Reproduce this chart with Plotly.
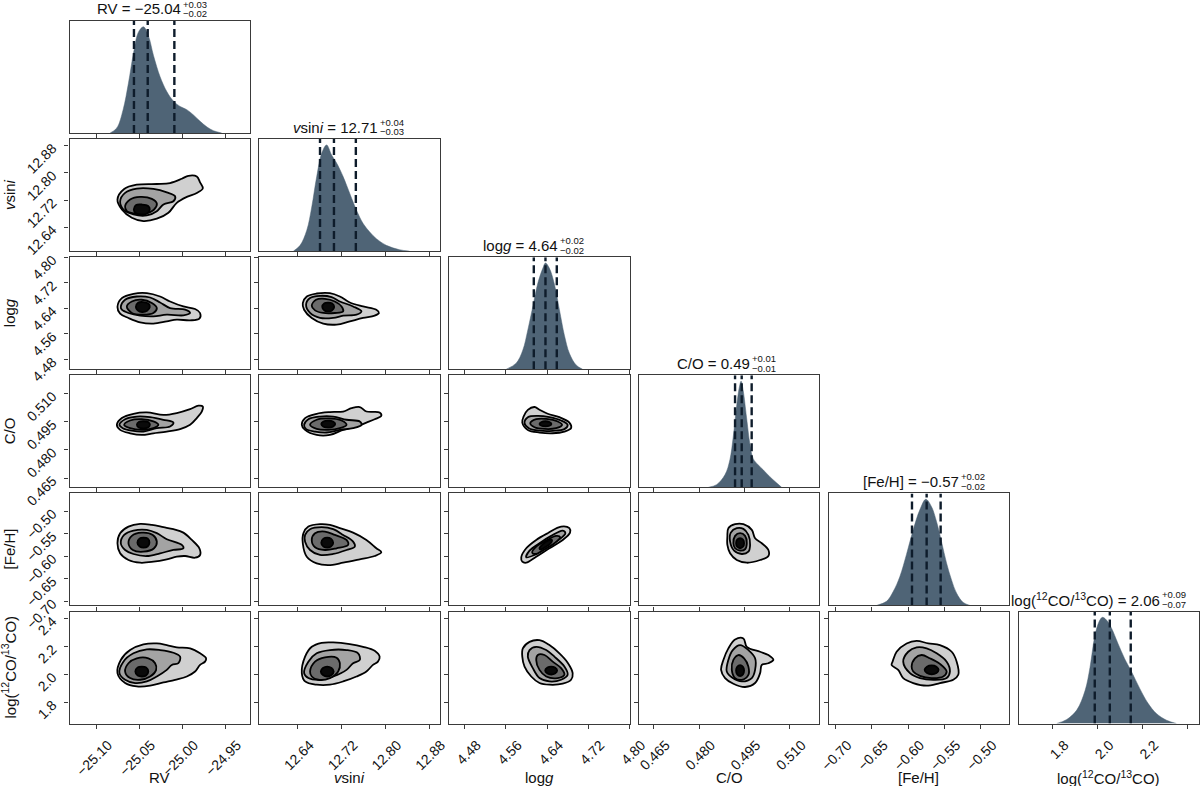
import plotly.graph_objects as go

# ---------------- parameters / axes ----------------
param_keys = ["rv", "vsini", "logg", "co", "feh", "logco"]
axis_labels = ["RV", "<i>v</i>sin<i>i</i>", "log<i>g</i>", "C/O", "[Fe/H]",
               "log(<sup>12</sup>CO/<sup>13</sup>CO)"]
axis_ranges = [[-25.131, -24.921], [12.5696, 12.8996], [4.4495, 4.8005],
               [0.4601, 0.5198], [-0.7095, -0.4607], [1.649, 2.4515]]
tick_vals = [[-25.10, -25.05, -25.00, -24.95],
             [12.64, 12.72, 12.80, 12.88],
             [4.48, 4.56, 4.64, 4.72, 4.80],
             [0.465, 0.480, 0.495, 0.510],
             [-0.70, -0.65, -0.60, -0.55, -0.50],
             [1.8, 2.0, 2.2, 2.4]]
tick_text = [["−25.10", "−25.05", "−25.00", "−24.95"],
             ["12.64", "12.72", "12.80", "12.88"],
             ["4.48", "4.56", "4.64", "4.72", "4.80"],
             ["0.465", "0.480", "0.495", "0.510"],
             ["−0.70", "−0.65", "−0.60", "−0.55", "−0.50"],
             ["1.8", "2.0", "2.2", "2.4"]]

title_main = ["RV = −25.04", "<i>v</i>sin<i>i</i> = 12.71", "log<i>g</i> = 4.64",
              "C/O = 0.49", "[Fe/H] = −0.57", "log(<sup>12</sup>CO/<sup>13</sup>CO) = 2.06"]
title_plus = ["+0.03", "+0.04", "+0.02", "+0.01", "+0.02", "+0.09"]
title_minus = ["−0.02", "−0.03", "−0.02", "−0.01", "−0.02", "−0.07"]

# ---------------- 1-D marginals (relative density) ----------------
rv_grid = [-25.0837, -25.076, -25.0686, -25.0624, -25.0566, -25.0508, -25.045, -25.039,
           -25.0333, -25.0256, -25.0178, -25.010, -25.0023, -24.9946, -24.9868, -24.979,
           -24.971, -24.9636, -24.954]
rv_dens = [0, 0.047, 0.22, 0.47, 0.75, 0.95, 1.0, 0.91, 0.73, 0.53, 0.39, 0.30, 0.25,
           0.22, 0.17, 0.11, 0.056, 0.022, 0]
rv_q = [-25.056, -25.040, -25.009]

vsini_grid = [12.632, 12.6442, 12.6564, 12.6655, 12.6745, 12.6836, 12.6927, 12.7018,
              12.7109, 12.7230, 12.7352, 12.7473, 12.7594, 12.7715, 12.7836, 12.8018,
              12.826, 12.844]
vsini_dens = [0, 0.054, 0.196, 0.416, 0.70, 0.92, 1.0, 0.905, 0.83, 0.70, 0.54, 0.385,
              0.26, 0.18, 0.117, 0.054, 0.013, 0]
vsini_q = [12.6806, 12.7061, 12.7461]

logg_grid = [4.5606, 4.580, 4.5929, 4.6026, 4.6123, 4.622, 4.6317, 4.6369, 4.6446,
             4.6543, 4.664, 4.6737, 4.6834, 4.6964, 4.709]
logg_dens = [0, 0.057, 0.18, 0.37, 0.59, 0.81, 0.95, 1.0, 0.95, 0.80, 0.56, 0.32, 0.15,
             0.04, 0]
logg_q = [4.6142, 4.6369, 4.6589]

co_grid = [0.4831, 0.4858, 0.4886, 0.4902, 0.4913, 0.4924, 0.4933, 0.4939, 0.4946,
           0.4957, 0.4968, 0.4979, 0.4996, 0.5012, 0.5034, 0.5057, 0.5073]
co_dens = [0, 0.025, 0.12, 0.26, 0.475, 0.76, 0.94, 1.0, 0.91, 0.66, 0.41, 0.27, 0.21,
           0.165, 0.10, 0.04, 0]
co_q = [0.4919, 0.4941, 0.4974]

feh_grid = [-0.6436, -0.6298, -0.6206, -0.6115, -0.6023, -0.5931, -0.5839, -0.5756,
            -0.5678, -0.5609, -0.5540, -0.5471, -0.5402, -0.5333, -0.5241, -0.5149]
feh_dens = [0, 0.038, 0.13, 0.27, 0.48, 0.71, 0.90, 1.0, 0.93, 0.79, 0.60, 0.40, 0.24,
            0.116, 0.028, 0]
feh_q = [-0.5947, -0.5745, -0.5552]

logco_grid = [1.819, 1.8637, 1.908, 1.945, 1.967, 1.988, 2.0074, 2.022, 2.040, 2.062,
              2.092, 2.121, 2.151, 2.188, 2.225, 2.262, 2.307, 2.351]
logco_dens = [0, 0.038, 0.126, 0.31, 0.53, 0.82, 0.96, 1.0, 0.975, 0.90, 0.75, 0.61,
              0.49, 0.33, 0.19, 0.094, 0.031, 0]
logco_q = [1.988, 2.055, 2.148]

marg_grid = [rv_grid, vsini_grid, logg_grid, co_grid, feh_grid, logco_grid]
marg_dens = [rv_dens, vsini_dens, logg_dens, co_dens, feh_dens, logco_dens]
marg_q = [rv_q, vsini_q, logg_q, co_q, feh_q, logco_q]

# ---------------- 2-D contour outlines (outer -> core) ----------------
# row vsini / col RV
vsini_rv_x = [
    [-25.0752, -25.0674, -25.0527, -25.0294, -25.0140, -25.0003, -24.9927, -24.9829, -24.9791,
     -24.9759, -24.9829, -24.9945, -25.0062, -25.0159, -25.0294, -25.0450, -25.0585, -25.0701],
    [-25.0721, -25.0663, -25.0527, -25.0334, -25.0178, -25.0081, -25.0101, -25.0217, -25.0294,
     -25.0410, -25.0566, -25.0683],
    [-25.0663, -25.0605, -25.0488, -25.0352, -25.0294, -25.0326, -25.0430, -25.0566, -25.0643],
    [-25.0562, -25.0535, -25.0465, -25.0395, -25.0376, -25.0407, -25.0477, -25.0541]]
vsini_rv_y = [
    [12.7214, 12.7527, 12.7652, 12.7673, 12.7702, 12.7828, 12.7915, 12.7895, 12.7720,
     12.7544, 12.7410, 12.7293, 12.7118, 12.6826, 12.6651, 12.6581, 12.6680, 12.6922],
    [12.7165, 12.7410, 12.7536, 12.7527, 12.7428, 12.7311, 12.7165, 12.7068, 12.6873,
     12.6747, 12.6776, 12.6922],
    [12.7019, 12.7214, 12.7293, 12.7235, 12.7098, 12.6922, 12.6806, 12.6806, 12.6873],
    [12.6922, 12.7054, 12.7068, 12.7025, 12.6922, 12.6806, 12.6776, 12.6820]]

# row logg / col RV
logg_rv_x = [
    [-25.0752, -25.0701, -25.0566, -25.0410, -25.0256, -25.0140, -24.9985, -24.9849, -24.9791,
     -24.9799, -24.9907, -25.0062, -25.0178, -25.0334, -25.0488, -25.0624, -25.0721],
    [-25.0713, -25.0663, -25.0527, -25.0372, -25.0256, -25.0140, -24.9965, -24.9907, -24.9985,
     -25.0178, -25.0334, -25.0488, -25.0624, -25.0701],
    [-25.0643, -25.0585, -25.0469, -25.0352, -25.0294, -25.0334, -25.0450, -25.0585],
    [-25.0538, -25.0512, -25.0453, -25.0390, -25.0376, -25.0407, -25.0465, -25.0517]]
logg_rv_y = [
    [4.6444, 4.6724, 4.6858, 4.6879, 4.6773, 4.6618, 4.6462, 4.6381, 4.6257, 4.6079, 4.6026,
     4.6048, 4.5995, 4.5924, 4.5964, 4.6101, 4.6235],
    [4.6444, 4.6671, 4.6773, 4.6742, 4.6587, 4.6412, 4.6359, 4.6257, 4.6182, 4.6204, 4.6151,
     4.6173, 4.6257, 4.6359],
    [4.6462, 4.6618, 4.6671, 4.6568, 4.6412, 4.6257, 4.6204, 4.6257],
    [4.6444, 4.6577, 4.6599, 4.6546, 4.6437, 4.6328, 4.6288, 4.6344]]

# row C/O / col RV
co_rv_x = [
    [-25.0759, -25.0701, -25.0566, -25.0410, -25.0217, -25.0062, -24.9907, -24.9810, -24.9759,
     -24.9771, -24.9829, -24.9907, -25.0023, -25.0178, -25.0334, -25.0469, -25.0605, -25.0721],
    [-25.0729, -25.0663, -25.0527, -25.0372, -25.0217, -25.0101, -25.0140, -25.0294, -25.0450,
     -25.0585, -25.0690],
    [-25.0674, -25.0605, -25.0469, -25.0334, -25.0276, -25.0334, -25.0469, -25.0605],
    [-25.0526, -25.0500, -25.0450, -25.0395, -25.0374, -25.0401, -25.0450, -25.0500]]
co_rv_y = [
    [0.4934, 0.4970, 0.4993, 0.5000, 0.4987, 0.4997, 0.5018, 0.5036, 0.5032, 0.5005, 0.4970,
     0.4934, 0.4911, 0.4898, 0.4889, 0.4880, 0.4889, 0.4907],
    [0.4934, 0.4964, 0.4978, 0.4975, 0.4961, 0.4946, 0.4925, 0.4916, 0.4898, 0.4903, 0.4916],
    [0.4934, 0.4957, 0.4964, 0.4952, 0.4934, 0.4916, 0.4907, 0.4916],
    [0.4934, 0.4950, 0.4953, 0.4949, 0.4934, 0.4918, 0.4915, 0.4918]]

# row [Fe/H] / col RV
feh_rv_x = [
    [-25.0752, -25.0721, -25.0624, -25.0488, -25.0352, -25.0217, -25.0101, -24.9985, -24.9887,
     -24.9799, -24.9791, -24.9849, -24.9965, -25.0062, -25.0178, -25.0334, -25.0488, -25.0624,
     -25.0721],
    [-25.0713, -25.0674, -25.0566, -25.0410, -25.0294, -25.0178, -25.0003, -24.9985, -25.0101,
     -25.0256, -25.0410, -25.0566, -25.0663],
    [-25.0624, -25.0585, -25.0469, -25.0341, -25.0294, -25.0326, -25.0450, -25.0573],
    [-25.0520, -25.0494, -25.0450, -25.0401, -25.0380, -25.0401, -25.0450, -25.0494]]
feh_rv_y = [
    [-0.5714, -0.5491, -0.5344, -0.5283, -0.5306, -0.5357, -0.5402, -0.5478, -0.5641, -0.5826,
     -0.5975, -0.6036, -0.5998, -0.6013, -0.6071, -0.6125, -0.6147, -0.6087, -0.5937],
    [-0.5714, -0.5529, -0.5433, -0.5417, -0.5491, -0.5625, -0.5752, -0.5826, -0.5864, -0.5937,
     -0.5998, -0.5953, -0.5864],
    [-0.5714, -0.5551, -0.5478, -0.5529, -0.5679, -0.5826, -0.5902, -0.5864],
    [-0.5701, -0.5607, -0.5589, -0.5607, -0.5701, -0.5786, -0.5812, -0.5786]]

# row log(12CO/13CO) / col RV
logco_rv_x = [
    [-25.0752, -25.0713, -25.0605, -25.0450, -25.0294, -25.0178, -25.0062, -24.9907, -24.9791,
     -24.9721, -24.9733, -24.9791, -24.9849, -24.9945, -25.0081, -25.0217, -25.0372, -25.0527,
     -25.0663],
    [-25.0729, -25.0683, -25.0566, -25.0410, -25.0256, -25.0101, -25.0023, -25.0043, -25.0120,
     -25.0178, -25.0294, -25.0410, -25.0547, -25.0663],
    [-25.0663, -25.0624, -25.0527, -25.0392, -25.0314, -25.0302, -25.0372, -25.0488, -25.0605],
    [-25.0544, -25.0517, -25.0469, -25.0419, -25.0393, -25.0419, -25.0469, -25.0517]]
logco_rv_y = [
    [2.0099, 2.1043, 2.1752, 2.2156, 2.2227, 2.2106, 2.1943, 2.1872, 2.1518, 2.1163, 2.0922,
     2.0688, 2.0213, 1.9858, 1.9624, 1.9433, 1.9199, 1.9149, 1.9390],
    [2.0099, 2.0922, 2.1518, 2.1801, 2.1752, 2.1560, 2.1277, 2.0809, 2.0688, 2.0333, 1.9858,
     1.9504, 1.9390, 1.9624],
    [2.0213, 2.0809, 2.1163, 2.1163, 2.0809, 2.0333, 1.9858, 1.9624, 1.9745],
    [2.0213, 2.0511, 2.0568, 2.0511, 2.0213, 1.9929, 1.9858, 1.9929]]

# row logg / col vsini
logg_vsini_x = [
    [12.6491, 12.6564, 12.6745, 12.6987, 12.7169, 12.7351, 12.7593, 12.7836, 12.7883, 12.7805,
     12.7593, 12.7351, 12.7109, 12.6865, 12.6655, 12.6515],
    [12.6551, 12.6624, 12.6805, 12.7018, 12.7169, 12.7411, 12.7564, 12.7473, 12.7229, 12.7047,
     12.6805, 12.6624],
    [12.6655, 12.6733, 12.6896, 12.7078, 12.7200, 12.7229, 12.7078, 12.6865, 12.6715],
    [12.6847, 12.6887, 12.6956, 12.7029, 12.7065, 12.7024, 12.6956, 12.6887]]
logg_vsini_y = [
    [4.6568, 4.6773, 4.6867, 4.6879, 4.6773, 4.6587, 4.6462, 4.6359, 4.6257, 4.6173, 4.6101,
     4.5995, 4.5893, 4.5924, 4.6101, 4.6359],
    [4.6515, 4.6724, 4.6795, 4.6755, 4.6618, 4.6462, 4.6307, 4.6204, 4.6173, 4.6101, 4.6101,
     4.6257],
    [4.6484, 4.6671, 4.6702, 4.6618, 4.6462, 4.6307, 4.6257, 4.6257, 4.6338],
    [4.6444, 4.6562, 4.6584, 4.6552, 4.6444, 4.6335, 4.6303, 4.6335]]

# row C/O / col vsini
co_vsini_x = [
    [12.6473, 12.6533, 12.6745, 12.6987, 12.7229, 12.7382, 12.7533, 12.7654, 12.7896, 12.7927,
     12.7805, 12.7654, 12.7473, 12.7229, 12.6987, 12.6745, 12.6533],
    [12.6515, 12.6593, 12.6805, 12.7047, 12.7291, 12.7533, 12.7564, 12.7411, 12.7169, 12.6927,
     12.6715, 12.6551],
    [12.6624, 12.6745, 12.6956, 12.7200, 12.7291, 12.7169, 12.6956, 12.6745],
    [12.6829, 12.6869, 12.6956, 12.7042, 12.7084, 12.7042, 12.6956, 12.6869]]
co_vsini_y = [
    [0.4934, 0.4970, 0.4993, 0.5002, 0.5005, 0.5023, 0.5029, 0.5005, 0.5000, 0.4982, 0.4964,
     0.4946, 0.4925, 0.4907, 0.4880, 0.4880, 0.4907],
    [0.4934, 0.4964, 0.4978, 0.4978, 0.4961, 0.4952, 0.4934, 0.4916, 0.4907, 0.4893, 0.4898,
     0.4911],
    [0.4934, 0.4961, 0.4968, 0.4957, 0.4934, 0.4916, 0.4907, 0.4912],
    [0.4938, 0.4952, 0.4956, 0.4952, 0.4938, 0.4924, 0.4919, 0.4924]]

# row C/O / col logg
co_logg_x = [
    [4.5918, 4.5943, 4.6026, 4.6156, 4.6253, 4.6413, 4.6640, 4.6834, 4.6867, 4.6737, 4.6510,
     4.6253, 4.6026],
    [4.5962, 4.6026, 4.6220, 4.6446, 4.6673, 4.6801, 4.6737, 4.6510, 4.6253, 4.6045],
    [4.6073, 4.6189, 4.6383, 4.6607, 4.6692, 4.6576, 4.6350, 4.6156],
    [4.6253, 4.6292, 4.6369, 4.6446, 4.6485, 4.6446, 4.6369, 4.6292]]
co_logg_y = [
    [0.4946, 0.4978, 0.5014, 0.5029, 0.5014, 0.4993, 0.4975, 0.4946, 0.4916, 0.4898, 0.4889,
     0.4893, 0.4907],
    [0.4943, 0.4975, 0.4982, 0.4975, 0.4957, 0.4934, 0.4911, 0.4902, 0.4903, 0.4916],
    [0.4943, 0.4964, 0.4966, 0.4952, 0.4934, 0.4916, 0.4912, 0.4921],
    [0.4939, 0.4949, 0.4953, 0.4949, 0.4939, 0.4929, 0.4926, 0.4929]]

# row [Fe/H] / col vsini
feh_vsini_x = [
    [12.6502, 12.6593, 12.6805, 12.6987, 12.7169, 12.7411, 12.7654, 12.7836, 12.7927, 12.7805,
     12.7533, 12.7229, 12.6956, 12.6745, 12.6564, 12.6491],
    [12.6533, 12.6624, 12.6836, 12.7047, 12.7229, 12.7411, 12.7442, 12.7291, 12.7047, 12.6805,
     12.6624, 12.6533],
    [12.6655, 12.6715, 12.6896, 12.7078, 12.7291, 12.7320, 12.7109, 12.6896, 12.6715],
    [12.6829, 12.6869, 12.6938, 12.7005, 12.7047, 12.7005, 12.6938, 12.6869]]
feh_vsini_y = [
    [-0.5491, -0.5344, -0.5290, -0.5306, -0.5379, -0.5478, -0.5641, -0.5826, -0.5915, -0.5998,
     -0.6071, -0.6147, -0.6199, -0.6161, -0.6013, -0.5714],
    [-0.5529, -0.5402, -0.5357, -0.5402, -0.5529, -0.5679, -0.5790, -0.5864, -0.5953, -0.5975,
     -0.5864, -0.5679],
    [-0.5641, -0.5491, -0.5455, -0.5529, -0.5641, -0.5752, -0.5826, -0.5864, -0.5804],
    [-0.5701, -0.5612, -0.5589, -0.5612, -0.5701, -0.5790, -0.5812, -0.5790]]

# row [Fe/H] / col logg
feh_logg_x = [
    [4.5918, 4.5898, 4.5995, 4.6189, 4.6413, 4.6673, 4.6834, 4.6847, 4.6704, 4.6446, 4.6189,
     4.5995],
    [4.5995, 4.6059, 4.6253, 4.6479, 4.6704, 4.6756, 4.6607, 4.6383, 4.6156],
    [4.6111, 4.6189, 4.6383, 4.6576, 4.6654, 4.6543, 4.6350, 4.6175],
    [4.6253, 4.6311, 4.6427, 4.6495, 4.6466, 4.6369, 4.6272]]
feh_logg_y = [
    [-0.6125, -0.6027, -0.5826, -0.5641, -0.5491, -0.5344, -0.5379, -0.5478, -0.5641, -0.5826,
     -0.6013, -0.6147],
    [-0.6027, -0.5879, -0.5714, -0.5551, -0.5433, -0.5491, -0.5656, -0.5826, -0.5975],
    [-0.5924, -0.5790, -0.5656, -0.5551, -0.5580, -0.5714, -0.5848, -0.5953],
    [-0.5830, -0.5741, -0.5652, -0.5641, -0.5719, -0.5797, -0.5853]]

# row [Fe/H] / col C/O
feh_co_x = [
    [0.48936, 0.48969, 0.49191, 0.49466, 0.49744, 0.49853, 0.50075, 0.50293, 0.50293, 0.50019,
     0.49578, 0.49247, 0.49026, 0.48936],
    [0.49026, 0.49049, 0.49247, 0.49466, 0.49631, 0.49688, 0.49631, 0.49413, 0.49158],
    [0.49135, 0.49191, 0.49357, 0.49522, 0.49578, 0.49522, 0.49357, 0.49191],
    [0.49224, 0.49262, 0.49357, 0.49452, 0.49489, 0.49452, 0.49357, 0.49262]]
feh_co_y = [
    [-0.5567, -0.5379, -0.5290, -0.5290, -0.5417, -0.5603, -0.5714, -0.5864, -0.5998, -0.6087,
     -0.6147, -0.6087, -0.5937, -0.5752],
    [-0.5679, -0.5478, -0.5379, -0.5395, -0.5529, -0.5752, -0.5902, -0.5953, -0.5879],
    [-0.5714, -0.5551, -0.5491, -0.5551, -0.5714, -0.5848, -0.5879, -0.5826],
    [-0.5714, -0.5635, -0.5603, -0.5635, -0.5714, -0.5793, -0.5826, -0.5793]]

# row log(12CO/13CO) / col vsini
logco_vsini_x = [
    [12.6473, 12.6533, 12.6655, 12.6836, 12.7047, 12.7351, 12.7593, 12.7805, 12.7896, 12.7865,
     12.7774, 12.7654, 12.7473, 12.7229, 12.6987, 12.6745, 12.6533],
    [12.6515, 12.6593, 12.6745, 12.6987, 12.7291, 12.7502, 12.7533, 12.7411, 12.7291, 12.7047,
     12.6805, 12.6593],
    [12.6624, 12.6715, 12.6896, 12.7109, 12.7169, 12.7138, 12.6987, 12.6775, 12.6655],
    [12.6820, 12.6860, 12.6938, 12.7016, 12.7056, 12.7016, 12.6938, 12.6860]]
logco_vsini_y = [
    [2.0099, 2.1277, 2.1986, 2.2270, 2.2298, 2.2177, 2.1986, 2.1702, 2.1277, 2.0922, 2.0688,
     2.0213, 1.9858, 1.9504, 1.9270, 1.9270, 1.9504],
    [2.0099, 2.0922, 2.1518, 2.1752, 2.1752, 2.1518, 2.1043, 2.0809, 2.0333, 1.9858, 1.9624,
     1.9745],
    [2.0213, 2.0922, 2.1234, 2.1206, 2.0809, 2.0213, 1.9745, 1.9624, 1.9858],
    [2.0213, 2.0464, 2.0568, 2.0464, 2.0213, 1.9962, 1.9858, 1.9962]]

# row log(12CO/13CO) / col logg
logco_logg_x = [
    [4.5918, 4.5929, 4.6059, 4.6253, 4.6446, 4.6640, 4.6801, 4.6898, 4.6867, 4.6704, 4.6446,
     4.6253, 4.6092, 4.5962],
    [4.6026, 4.6059, 4.6189, 4.6383, 4.6543, 4.6737, 4.6801, 4.6673, 4.6446, 4.6253, 4.6123],
    [4.6189, 4.6220, 4.6350, 4.6510, 4.6673, 4.6737, 4.6607, 4.6383, 4.6253],
    [4.6363, 4.6408, 4.6479, 4.6553, 4.6596, 4.6553, 4.6479, 4.6408]]
logco_logg_y = [
    [2.1277, 2.1872, 2.2340, 2.2461, 2.2106, 2.1518, 2.0851, 2.0099, 1.9624, 1.9341, 1.9270,
     1.9390, 1.9858, 2.0567],
    [2.1277, 2.1752, 2.1986, 2.1752, 2.1277, 2.0567, 1.9979, 1.9624, 1.9504, 1.9745, 2.0454],
    [2.1043, 2.1397, 2.1397, 2.0922, 2.0454, 1.9979, 1.9745, 1.9858, 2.0333],
    [2.0284, 2.0497, 2.0568, 2.0497, 2.0284, 2.0071, 2.0000, 2.0071]]

# row log(12CO/13CO) / col C/O
logco_co_x = [
    [0.48728, 0.48804, 0.48969, 0.49191, 0.49466, 0.49578, 0.50019, 0.50293, 0.50459, 0.50293,
     0.50075, 0.50019, 0.49853, 0.49522, 0.49135, 0.48860],
    [0.48916, 0.48969, 0.49115, 0.49357, 0.49631, 0.49853, 0.49853, 0.49744, 0.49413, 0.49115],
    [0.49082, 0.49135, 0.49300, 0.49489, 0.49631, 0.49631, 0.49413, 0.49191],
    [0.49224, 0.49262, 0.49357, 0.49452, 0.49489, 0.49452, 0.49357, 0.49262]]
logco_co_y = [
    [2.0333, 2.1043, 2.1872, 2.2511, 2.2582, 2.1986, 2.1631, 2.1397, 2.1043, 2.0809, 2.0688,
     2.0099, 1.9390, 1.9107, 1.9341, 1.9745],
    [2.0213, 2.1043, 2.1752, 2.2106, 2.1752, 2.1163, 2.0333, 1.9745, 1.9504, 1.9745],
    [2.0333, 2.1043, 2.1397, 2.1163, 2.0567, 1.9979, 1.9624, 1.9745],
    [2.0284, 2.0560, 2.0674, 2.0560, 2.0284, 2.0008, 1.9894, 2.0008]]

# row log(12CO/13CO) / col [Fe/H]
logco_feh_x = [
    [-0.6214, -0.6159, -0.6021, -0.5883, -0.5723, -0.5562, -0.5400, -0.5331, -0.5309, -0.5378,
     -0.5562, -0.5745, -0.5930, -0.6068, -0.6137, -0.6228],
    [-0.6068, -0.5999, -0.5883, -0.5745, -0.5607, -0.5469, -0.5424, -0.5469, -0.5654, -0.5837,
     -0.5975],
    [-0.5952, -0.5906, -0.5814, -0.5700, -0.5562, -0.5469, -0.5516, -0.5676, -0.5837, -0.5930],
    [-0.5773, -0.5741, -0.5676, -0.5610, -0.5580, -0.5610, -0.5676, -0.5741]]
logco_feh_y = [
    [2.0922, 2.1631, 2.2227, 2.2411, 2.2227, 2.2106, 2.1631, 2.0922, 1.9979, 1.9624, 1.9390,
     1.9199, 1.9390, 1.9745, 2.0333, 2.0688],
    [2.0922, 2.1631, 2.1943, 2.1872, 2.1518, 2.0922, 2.0213, 1.9745, 1.9624, 1.9745, 2.0099],
    [2.0568, 2.1163, 2.1397, 2.1163, 2.0759, 2.0213, 1.9858, 1.9745, 1.9908, 2.0213],
    [2.0333, 2.0560, 2.0653, 2.0560, 2.0333, 2.0107, 2.0014, 2.0107]]

contour_x = {(1, 0): vsini_rv_x, (2, 0): logg_rv_x, (3, 0): co_rv_x, (4, 0): feh_rv_x,
             (5, 0): logco_rv_x, (2, 1): logg_vsini_x, (3, 1): co_vsini_x,
             (3, 2): co_logg_x, (4, 1): feh_vsini_x, (4, 2): feh_logg_x, (4, 3): feh_co_x,
             (5, 1): logco_vsini_x, (5, 2): logco_logg_x, (5, 3): logco_co_x,
             (5, 4): logco_feh_x}
contour_y = {(1, 0): vsini_rv_y, (2, 0): logg_rv_y, (3, 0): co_rv_y, (4, 0): feh_rv_y,
             (5, 0): logco_rv_y, (2, 1): logg_vsini_y, (3, 1): co_vsini_y,
             (3, 2): co_logg_y, (4, 1): feh_vsini_y, (4, 2): feh_logg_y, (4, 3): feh_co_y,
             (5, 1): logco_vsini_y, (5, 2): logco_logg_y, (5, 3): logco_co_y,
             (5, 4): logco_feh_y}

# ---------------- styling ----------------
W, H = 1200, 786
X0, PX, PW = 69.5, 189.8, 180.5
Y0, PY, PH = 21.0, 118.1, 112.0
FONT = "Liberation Sans, Arial, Helvetica, sans-serif"
HIST_COLOR = "#4f6476"
QLINE_COLOR = "#0e1c2b"
LEVEL_FILLS = ["#d0d0d0", "#a3a3a3", "#6b6b6b", "#0a0a0a"]
SPINE = "#3a3a3a"
DIAG_TOP = 1.055


def dom_x(c):
    return [(X0 + c * PX) / W, (X0 + c * PX + PW) / W]


def dom_y(r):
    top = Y0 + r * PY
    return [1 - (top + PH) / H, 1 - top / H]


fig = go.Figure()
layout = {}
annotations = []
k = 0
for r in range(6):
    for c in range(r + 1):
        k += 1
        xn = "x" if k == 1 else f"x{k}"
        yn = "y" if k == 1 else f"y{k}"
        xl = "xaxis" if k == 1 else f"xaxis{k}"
        yl = "yaxis" if k == 1 else f"yaxis{k}"
        base_ax = dict(showgrid=False, zeroline=False, showline=True, mirror=True,
                       linecolor=SPINE, linewidth=1.2, ticks="outside", ticklen=4,
                       tickwidth=1, tickcolor=SPINE, automargin=False,
                       tickfont=dict(family=FONT, size=14, color="#111"))
        xa = dict(base_ax, domain=dom_x(c), anchor=yn, range=axis_ranges[c],
                  tickmode="array", tickvals=tick_vals[c], ticktext=tick_text[c],
                  tickangle=-45, showticklabels=(r == 5),
                  ticklabelshift=12, ticklabelstandoff=3)
        if r == c:
            ya = dict(base_ax, domain=dom_y(r), anchor=xn, range=[0, DIAG_TOP],
                      showticklabels=False, ticks="")
            fig.add_trace(go.Scatter(
                x=marg_grid[c], y=marg_dens[c], mode="lines", line_shape="spline",
                line=dict(color=HIST_COLOR, width=0.5), fill="tozeroy",
                fillcolor=HIST_COLOR, xaxis=xn, yaxis=yn, showlegend=False,
                hoverinfo="skip"))
            for q in marg_q[c]:
                fig.add_trace(go.Scatter(
                    x=[q, q], y=[0, DIAG_TOP], mode="lines",
                    line=dict(color=QLINE_COLOR, width=2.4, dash="8px,4px"),
                    xaxis=xn, yaxis=yn, showlegend=False, hoverinfo="skip"))
            # title
            cx = X0 + c * PX + PW / 2
            top = Y0 + r * PY
            split = cx + [23.2, 30.2, 20.5, 22.7, 42.0, 53.7][c]
            annotations.append(dict(
                text=title_main[c], x=split / W, y=1 - (top - 12.0) / H, xref="paper",
                yref="paper", xanchor="right", yanchor="middle", showarrow=False,
                font=dict(family=FONT, size=15, color="#111")))
            annotations.append(dict(
                text=title_plus[c], x=(split - 2) / W, y=1 - (top - 16.8) / H,
                xref="paper", yref="paper", xanchor="left", yanchor="middle",
                showarrow=False, font=dict(family=FONT, size=9.5, color="#111")))
            annotations.append(dict(
                text=title_minus[c], x=(split - 2) / W, y=1 - (top - 7.2) / H,
                xref="paper", yref="paper", xanchor="left", yanchor="middle",
                showarrow=False, font=dict(family=FONT, size=9.5, color="#111")))
        else:
            ya = dict(base_ax, domain=dom_y(r), anchor=xn, range=axis_ranges[r],
                      tickmode="array", tickvals=tick_vals[r], ticktext=tick_text[r],
                      tickangle=-45, showticklabels=(c == 0),
                      ticklabelshift=1, ticklabelstandoff=9)
            cxs = contour_x[(r, c)]
            cys = contour_y[(r, c)]
            for lev in range(4):
                xs = list(cxs[lev]) + [cxs[lev][0]]
                ys = list(cys[lev]) + [cys[lev][0]]
                fig.add_trace(go.Scatter(
                    x=xs, y=ys, mode="lines", line_shape="spline",
                    line=dict(color="#000", width=1.8, smoothing=1.0),
                    fill="toself", fillcolor=LEVEL_FILLS[lev],
                    xaxis=xn, yaxis=yn, showlegend=False, hoverinfo="skip"))
        layout[xl] = xa
        layout[yl] = ya

# axis labels
for i in range(6):
    cx = X0 + i * PX + PW / 2
    annotations.append(dict(text=axis_labels[i], x=cx / W, y=1 - 777.5 / H, xref="paper",
                            yref="paper", xanchor="center", yanchor="middle",
                            showarrow=False, font=dict(family=FONT, size=15, color="#111")))
for i in range(1, 6):
    cy = Y0 + i * PY + PH / 2
    annotations.append(dict(text=axis_labels[i], x=9 / W, y=1 - cy / H, xref="paper",
                            yref="paper", xanchor="center", yanchor="middle",
                            textangle=-90, showarrow=False,
                            font=dict(family=FONT, size=15, color="#111")))

fig.update_layout(**layout)
fig.update_layout(width=W, height=H, margin=dict(l=0, r=0, t=0, b=0),
                  paper_bgcolor="white", plot_bgcolor="white", showlegend=False,
                  annotations=annotations, font=dict(family=FONT, color="#111"))
fig.write_html("out.html", config={"displayModeBar": False},
               post_script="document.body.style.margin='0px';"
                           "document.documentElement.style.overflow='hidden';")
